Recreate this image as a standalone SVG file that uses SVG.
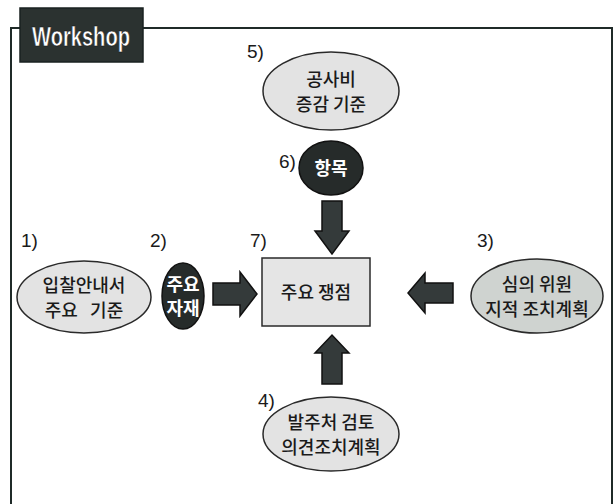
<svg xmlns="http://www.w3.org/2000/svg" width="615" height="504" viewBox="0 0 615 504">
<defs>
<style>
.frame{fill:none;stroke:#1f2a28;stroke-width:2}
.oval{fill:#e3e3e3;stroke:#2a2a2a;stroke-width:1.5}
.oval3{fill:#cfd3d0;stroke:#2a2a2a;stroke-width:1.5}
.blk{fill:#262b2a;stroke:#111;stroke-width:1.5}
.arrow{fill:#343a3a;stroke:#111;stroke-width:1.5;stroke-linejoin:miter}
.t{font-family:"Noto Sans CJK KR","Noto Sans",sans-serif;font-size:18px;font-weight:500;fill:#1a1a1a;text-anchor:middle}
.tw{font-family:"Noto Sans CJK KR","Noto Sans",sans-serif;font-size:18px;font-weight:bold;fill:#fff;text-anchor:middle}
.num{font-family:"Liberation Sans","Noto Sans",sans-serif;font-size:19px;fill:#1a1a1a}
</style>
</defs>
<rect width="615" height="504" fill="#fff"/>
<g id="frame">
<path class="frame" d="M20 28 H11 V504 M143 28 H612 V504"/>
</g>
<g id="title">
<rect x="20" y="8" width="123" height="54" fill="#2b3230" stroke="#1a2220" stroke-width="1.5"/>
<text x="81" y="46" font-family="Liberation Sans, Arial, sans-serif" font-size="27" font-weight="bold" fill="#fff" stroke="#111" stroke-width="0.5" text-anchor="middle" textLength="98" lengthAdjust="spacingAndGlyphs">Workshop</text>
</g>
<g id="connectors">
<path class="arrow" d="M213 283 H240 V272 L257 294 L240 316 V305 H213 Z"/>
<path class="arrow" d="M453 283 H425 V273 L408 293 L425 313 V303 H453 Z"/>
<path class="arrow" d="M322 201 H342 V231 H349 L332 254 L315 231 H322 Z"/>
<path class="arrow" d="M322 384 H342 V353 H349 L332 335 L315 353 H322 Z"/>
</g>
<g id="n5">
<ellipse class="oval" cx="331" cy="91" rx="68" ry="39"/>
<text class="num" x="247" y="58">5)</text>
<text class="t" x="331" y="86">공사비</text>
<text class="t" x="331" y="111">증감 기준</text>
</g>
<g id="n6">
<ellipse class="blk" cx="331" cy="168" rx="32" ry="27"/>
<text class="num" x="279" y="168">6)</text>
<text class="tw" x="331" y="175">항목</text>
</g>
<g id="n1">
<ellipse class="oval" cx="84" cy="297" rx="67" ry="36"/>
<text class="num" x="21" y="247">1)</text>
<text class="t" x="84" y="292">입찰안내서</text>
<text class="t" x="84" y="317" xml:space="preserve" style="white-space:pre">주요   기준</text>
</g>
<g id="n2">
<ellipse class="blk" cx="183" cy="296" rx="21" ry="33"/>
<text class="num" x="150" y="247">2)</text>
<text class="tw" x="183" y="291">주요</text>
<text class="tw" x="183" y="315">자재</text>
</g>
<g id="n7">
<rect x="262" y="258" width="108" height="68" fill="#e5e5e5" stroke="#2a2a2a" stroke-width="1.5"/>
<text class="num" x="250" y="247">7)</text>
<text class="t" x="316" y="299">주요 쟁점</text>
</g>
<g id="n3">
<ellipse class="oval3" cx="537" cy="296" rx="66" ry="37"/>
<text class="num" x="477" y="247">3)</text>
<text class="t" x="537" y="291">심의 위원</text>
<text class="t" x="537" y="316">지적 조치계획</text>
</g>
<g id="n4">
<ellipse class="oval" cx="331" cy="434" rx="68" ry="37"/>
<text class="num" x="258" y="407">4)</text>
<text class="t" x="331" y="429">발주처 검토</text>
<text class="t" x="331" y="454">의견조치계획</text>
</g>
</svg>
